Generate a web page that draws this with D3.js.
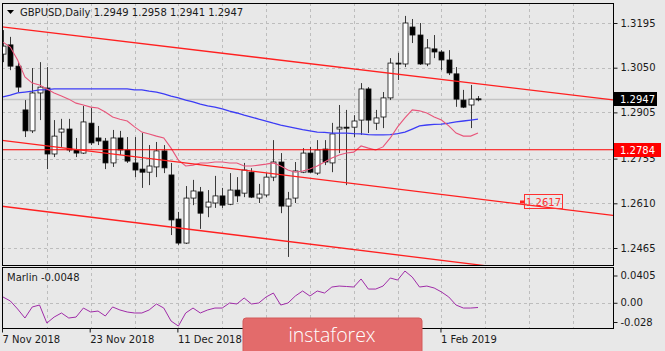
<!DOCTYPE html>
<html>
<head>
<meta charset="utf-8">
<script src="https://cdn.jsdelivr.net/npm/d3@7"></script>
<style>
  body { margin: 0; background: #e8e8e8; }
  svg { display: block; font-family: "DejaVu Sans", sans-serif; }
</style>
</head>
<body>
<div id="chart"></div>
<script>
// GBPUSD daily candles, bar 0 = 7 Nov 2018
const opens = [1.3094, 1.3124, 1.3055, 1.2913, 1.2845, 1.2968, 1.2984, 1.2770, 1.2841, 1.2851,
  1.2783, 1.2773, 1.2870, 1.2822, 1.2812, 1.2741, 1.2822, 1.2783, 1.2741, 1.2721,
  1.2711, 1.2728, 1.2780, 1.2702, 1.2559, 1.2481, 1.2627, 1.2647, 1.2598, 1.2611,
  1.2634, 1.2607, 1.2653, 1.2643, 1.2711, 1.2627, 1.2637, 1.2695, 1.2744, 1.2601,
  1.2627, 1.2711, 1.2773, 1.2708, 1.2786, 1.2741, 1.2851, 1.2857, 1.2857, 1.2880,
  1.2981, 1.2870, 1.2890, 1.2952, 1.3065, 1.3062, 1.3182, 1.3156, 1.3062, 1.3111,
  1.3101, 1.3075, 1.3030, 1.2945, 1.2929, 1.2949];
const highs = [1.3172, 1.3150, 1.3068, 1.2945, 1.3049, 1.3068, 1.3052, 1.2880, 1.2884, 1.2884,
  1.2822, 1.2926, 1.2919, 1.2861, 1.2822, 1.2848, 1.2845, 1.2825, 1.2825, 1.2838,
  1.2799, 1.2809, 1.2799, 1.2741, 1.2582, 1.2666, 1.2686, 1.2663, 1.2653, 1.2699,
  1.2660, 1.2708, 1.2695, 1.2741, 1.2724, 1.2673, 1.2708, 1.2815, 1.2773, 1.2647,
  1.2744, 1.2789, 1.2793, 1.2815, 1.2815, 1.2871, 1.2929, 1.2913, 1.2896, 1.3000,
  1.2987, 1.2913, 1.2971, 1.3081, 1.3098, 1.3218, 1.3208, 1.3195, 1.3143, 1.3156,
  1.3107, 1.3107, 1.3052, 1.2978, 1.2994, 1.2958];
const lows = [1.3068, 1.3042, 1.2971, 1.2825, 1.2838, 1.2880, 1.2721, 1.2760, 1.2793, 1.2776,
  1.2760, 1.2770, 1.2799, 1.2799, 1.2721, 1.2728, 1.2767, 1.2741, 1.2695, 1.2660,
  1.2669, 1.2695, 1.2708, 1.2507, 1.2475, 1.2478, 1.2604, 1.2527, 1.2565, 1.2595,
  1.2595, 1.2604, 1.2614, 1.2630, 1.2627, 1.2611, 1.2630, 1.2682, 1.2578, 1.2436,
  1.2611, 1.2708, 1.2708, 1.2702, 1.2734, 1.2711, 1.2773, 1.2669, 1.2825, 1.2832,
  1.2838, 1.2848, 1.2854, 1.2945, 1.3010, 1.3052, 1.3130, 1.3059, 1.3055, 1.3081,
  1.3042, 1.3026, 1.2923, 1.2919, 1.2854, 1.2941];
const closes = [1.3120, 1.3055, 1.2987, 1.2845, 1.2968, 1.2987, 1.2770, 1.2828, 1.2851, 1.2783,
  1.2773, 1.2874, 1.2806, 1.2812, 1.2741, 1.2822, 1.2783, 1.2747, 1.2718, 1.2711,
  1.2731, 1.2780, 1.2725, 1.2556, 1.2481, 1.2627, 1.2650, 1.2578, 1.2614, 1.2634,
  1.2604, 1.2653, 1.2634, 1.2718, 1.2630, 1.2640, 1.2695, 1.2744, 1.2601, 1.2624,
  1.2715, 1.2773, 1.2711, 1.2783, 1.2744, 1.2835, 1.2857, 1.2854, 1.2877, 1.2981,
  1.2880, 1.2887, 1.2952, 1.3065, 1.3062, 1.3195, 1.3156, 1.3062, 1.3114, 1.3101,
  1.3075, 1.3033, 1.2948, 1.2922, 1.2948, 1.2947];

// moving averages
const blueMa = [1.2955, 1.2961, 1.2968, 1.2971, 1.2974, 1.2978, 1.2979, 1.2981, 1.2981, 1.2981,
  1.2981, 1.2981, 1.2981, 1.2981, 1.2981, 1.2981, 1.2981, 1.2981, 1.2978, 1.2978,
  1.2974, 1.2971, 1.2965, 1.2958, 1.2952, 1.2945, 1.2939, 1.2932, 1.2926, 1.2922,
  1.2916, 1.2909, 1.2903, 1.2896, 1.2890, 1.2883, 1.2877, 1.2870, 1.2864, 1.2859,
  1.2854, 1.2849, 1.2845, 1.2841, 1.2840, 1.2838, 1.2838, 1.2838, 1.2836, 1.2835,
  1.2833, 1.2832, 1.2832, 1.2833, 1.2836, 1.2841, 1.2851, 1.2861, 1.2864, 1.2866,
  1.2867, 1.2870, 1.2874, 1.2877, 1.2880, 1.2883];
const pinkMa = [1.3133, 1.3117, 1.3075, 1.3020, 1.3000, 1.2994, 1.2981, 1.2968, 1.2958, 1.2948,
  1.2935, 1.2929, 1.2922, 1.2919, 1.2906, 1.2890, 1.2883, 1.2877, 1.2858, 1.2841,
  1.2835, 1.2828, 1.2822, 1.2789, 1.2750, 1.2731, 1.2734, 1.2741, 1.2741, 1.2744,
  1.2744, 1.2741, 1.2741, 1.2731, 1.2731, 1.2734, 1.2737, 1.2741, 1.2731, 1.2718,
  1.2711, 1.2715, 1.2721, 1.2731, 1.2744, 1.2757, 1.2767, 1.2773, 1.2776, 1.2796,
  1.2789, 1.2783, 1.2793, 1.2822, 1.2858, 1.2887, 1.2913, 1.2910, 1.2903, 1.2890,
  1.2880, 1.2861, 1.2838, 1.2828, 1.2828, 1.2838];

// Marlin oscillator
const marlin = [0.0071, 0.0026, -0.0065, -0.0167, -0.0042, -0.0020, -0.0224, -0.0156, -0.0110, -0.0167,
  -0.0156, -0.0054, -0.0099, -0.0088, -0.0144, -0.0042, -0.0076, -0.0099, -0.0110, -0.0110,
  -0.0076, -0.0008, -0.0054, -0.0201, -0.0258, -0.0110, -0.0054, -0.0110, -0.0076, -0.0054,
  -0.0054, 0.0003, -0.0008, 0.0060, -0.0008, 0.0003, 0.0071, 0.0116, -0.0020, 0.0003,
  0.0082, 0.0139, 0.0082, 0.0139, 0.0116, 0.0184, 0.0195, 0.0190, 0.0184, 0.0275,
  0.0161, 0.0161, 0.0195, 0.0286, 0.0263, 0.0365, 0.0297, 0.0184, 0.0195, 0.0173,
  0.0128, 0.0071, -0.0020, -0.0054, -0.0054, -0.0048];

// only the date labels not hidden by the watermark
const dateTicks = [0, 12, 24, 60];
const dateLabels = ["7 Nov 2018", "23 Nov 2018", "11 Dec 2018", "1 Feb 2019"];
const priceTicks = [1.3195, 1.3050, 1.2905, 1.2755, 1.2610, 1.2465];
const marlinTicks = [0.0405, 0.0, -0.028];
const marlinLabels = ["0.0405", "0.00", "-0.028"];

// trend channel: [bar1, price1, bar2, price2]
const channel = [
  [0, 1.3182, 60, 1.3012],
  [0, 1.2814, 60, 1.2639],
  [0, 1.2600, 60, 1.2425]
];
const levelPrice = 1.2784;
const bidPrice = 1.2947;
const channelLabel = "1.2617";
const header = ["GBPUSD,Daily", "1.2949 1.2958 1.2941 1.2947"];

const W = 665, H = 351;
const plot = { left: 2, right: 613, top: 3, bottom: 265 };
const ind = { top: 267, bottom: 328 };

const svg = d3.select("#chart").append("svg").attr("width", W).attr("height", H);
svg.append("rect").attr("width", W).attr("height", H).attr("fill", "#e8e8e8");

const x = d3.scaleLinear().domain([0, 65]).range([3, 478]);
const y = d3.scaleLinear().domain([1.2465, 1.3195]).range([248, 23]);
const ym = d3.scaleLinear().domain([-0.028, 0.0405]).range([ind.bottom, ind.top + 0.5]);

svg.append("clipPath").attr("id", "clipMain").append("rect")
  .attr("x", plot.left).attr("y", plot.top)
  .attr("width", plot.right - plot.left).attr("height", plot.bottom - plot.top);

const gridColor = "#bdbdbd";
const gridIdx = d3.range(6, 84, 6);

// vertical grid, both panes
[[plot.top, plot.bottom], [ind.top, ind.bottom]].forEach(([t, b]) => {
  svg.append("g").selectAll("line").data(gridIdx).join("line")
    .attr("x1", (d) => Math.round(x(d)) + 0.5).attr("x2", (d) => Math.round(x(d)) + 0.5)
    .attr("y1", t).attr("y2", b)
    .attr("stroke", gridColor).attr("stroke-dasharray", "3,3");
});

// horizontal grid
svg.append("g").selectAll("line").data(priceTicks).join("line")
  .attr("x1", plot.left).attr("x2", plot.right)
  .attr("y1", (d) => Math.round(y(d)) + 0.5).attr("y2", (d) => Math.round(y(d)) + 0.5)
  .attr("stroke", gridColor).attr("stroke-dasharray", "3,3");

svg.append("line")
  .attr("x1", plot.left).attr("x2", plot.right)
  .attr("y1", Math.round(ym(0)) + 0.5).attr("y2", Math.round(ym(0)) + 0.5)
  .attr("stroke", gridColor).attr("stroke-dasharray", "3,3");

const main = svg.append("g").attr("clip-path", "url(#clipMain)");

// bid line
main.append("line")
  .attr("x1", plot.left).attr("x2", plot.right)
  .attr("y1", y(bidPrice)).attr("y2", y(bidPrice))
  .attr("stroke", "#c4c4c4").attr("stroke-width", 1.5);

// candles
const bars = d3.range(opens.length);
const candle = main.append("g").selectAll("g").data(bars).join("g");

candle.append("line")
  .attr("x1", (i) => Math.round(x(i)) + 0.5).attr("x2", (i) => Math.round(x(i)) + 0.5)
  .attr("y1", (i) => y(highs[i])).attr("y2", (i) => y(lows[i]))
  .attr("stroke", "#3a3a3a");

candle.append("rect")
  .attr("x", (i) => Math.round(x(i)) - 2)
  .attr("width", 5)
  .attr("y", (i) => y(Math.max(opens[i], closes[i])))
  .attr("height", (i) => Math.max(1, Math.abs(y(opens[i]) - y(closes[i]))))
  .attr("fill", (i) => (closes[i] >= opens[i] ? "#ffffff" : "#000000"))
  .attr("stroke", "#111")
  .attr("stroke-width", 0.8);

// moving averages
const maLine = (arr) => d3.line().x((d, i) => x(i)).y((d) => y(d))(arr);
main.append("path").attr("d", maLine(blueMa))
  .attr("fill", "none").attr("stroke", "#3c3cf5").attr("stroke-width", 1.3);
main.append("path").attr("d", maLine(pinkMa))
  .attr("fill", "none").attr("stroke", "#e8557a").attr("stroke-width", 1.1);

// horizontal level
main.append("line")
  .attr("x1", plot.left).attr("x2", plot.right)
  .attr("y1", y(levelPrice)).attr("y2", y(levelPrice))
  .attr("stroke", "#ff0000").attr("stroke-width", 1.1);

// channel lines extended across the pane
const xLeft = x.invert(plot.left), xRight = x.invert(plot.right);
main.append("g").selectAll("line").data(channel).join("line")
  .attr("x1", plot.left)
  .attr("y1", (d) => y(d[1] + (d[3] - d[1]) * (xLeft - d[0]) / (d[2] - d[0])))
  .attr("x2", plot.right)
  .attr("y2", (d) => y(d[1] + (d[3] - d[1]) * (xRight - d[0]) / (d[2] - d[0])))
  .attr("stroke", "#ff2020").attr("stroke-width", 1.3);

// price label on the middle channel line
const lab = svg.append("g").attr("transform", "translate(524,194)");
lab.append("rect").attr("x", 0.5).attr("y", 0.5).attr("width", 38).attr("height", 14)
  .attr("fill", "none").attr("stroke", "#ff3030");
lab.append("text").attr("x", 19.5).attr("y", 11.5).attr("text-anchor", "middle")
  .attr("font-size", 10).attr("fill", "#ff3030").text(channelLabel);
svg.append("rect").attr("x", 520).attr("y", 200.5).attr("width", 4).attr("height", 3).attr("fill", "#ff2020");

// Marlin oscillator
svg.append("path")
  .attr("d", d3.line().x((d, i) => x(i)).y((d) => ym(d))(marlin))
  .attr("fill", "none").attr("stroke", "#a02ca8").attr("stroke-width", 1);

// frames
svg.append("rect").attr("x", plot.left + 0.5).attr("y", plot.top + 0.5)
  .attr("width", plot.right - plot.left).attr("height", plot.bottom - plot.top)
  .attr("fill", "none").attr("stroke", "#000");
svg.append("rect").attr("x", plot.left + 0.5).attr("y", ind.top + 0.5)
  .attr("width", plot.right - plot.left).attr("height", ind.bottom - ind.top)
  .attr("fill", "none").attr("stroke", "#000");

// price axis
const yAxis = svg.append("g")
  .attr("transform", "translate(" + (plot.right + 0.5) + ",0)")
  .call(d3.axisRight(y).tickValues(priceTicks).tickSize(4).tickPadding(3).tickFormat(d3.format(".4f")));
yAxis.select(".domain").remove();
yAxis.selectAll("text").attr("font-family", "DejaVu Sans").attr("font-size", 10).attr("fill", "#1a1a1a");
yAxis.selectAll("line").attr("stroke", "#1a1a1a");

// oscillator axis, end labels held inside the pane
const mAxis = svg.append("g").attr("transform", "translate(" + (plot.right + 0.5) + ",0)");
const mPos = (d) => Math.min(Math.max(ym(d), ind.top + 9), ind.bottom - 5.5);
mAxis.selectAll("line").data(marlinTicks).join("line")
  .attr("x1", 0).attr("x2", 4).attr("y1", (d) => mPos(d)).attr("y2", (d) => mPos(d))
  .attr("stroke", "#1a1a1a");
mAxis.selectAll("text").data(marlinTicks).join("text")
  .attr("x", 7).attr("y", (d) => mPos(d)).attr("dy", "0.32em")
  .attr("font-size", 10).attr("fill", "#1a1a1a")
  .text((d, k) => marlinLabels[k]);

// bid and level boxes on the axis
function axisBox(price, bg, w) {
  const g = svg.append("g").attr("transform", "translate(" + (plot.right + 1) + "," + (Math.round(y(price)) - 7) + ")");
  g.append("rect").attr("width", w).attr("height", 14).attr("fill", bg);
  g.append("text").attr("x", 6).attr("y", 11).attr("font-size", 10).attr("fill", "#fff")
    .text(price.toFixed(4));
}
axisBox(bidPrice, "#000", 43);
axisBox(levelPrice, "#ff0000", 47);

// date axis
const xAxis = svg.append("g")
  .attr("transform", "translate(0," + (ind.bottom + 0.5) + ")")
  .call(d3.axisBottom(x).tickValues(dateTicks).tickSize(4).tickPadding(3)
    .tickFormat((d, k) => dateLabels[k]));
xAxis.select(".domain").remove();
xAxis.selectAll("line").attr("stroke", "#1a1a1a").attr("transform", "translate(-1,0)");
xAxis.selectAll("text").attr("text-anchor", "start").attr("x", -1)
  .attr("font-family", "DejaVu Sans").attr("font-size", 10).attr("fill", "#1a1a1a");

// header
svg.append("path").attr("d", "M7,10 L14,10 L10.5,14 Z").attr("fill", "#000");
svg.append("text").attr("x", 20).attr("y", 16).attr("font-size", 10).attr("fill", "#1a1a1a")
  .text(header[0] + "  " + header[1]);
svg.append("text").attr("x", 7).attr("y", 281).attr("font-size", 10).attr("fill", "#1a1a1a")
  .text("Marlin " + marlin[marlin.length - 1].toFixed(4));

// watermark
const wm = svg.append("g");
wm.append("rect").attr("x", 243).attr("y", 318).attr("width", 179).attr("height", 40).attr("rx", 3)
  .attr("fill", "#e36b6b").attr("stroke", "#d45a5a");
wm.append("text").attr("x", 332).attr("y", 342).attr("text-anchor", "middle")
  .attr("font-family", "Open Sans").attr("font-weight", 300).attr("font-size", 19.5)
  .attr("fill", "#ffffff").text("instaforex");
</script>
</body>
</html>
